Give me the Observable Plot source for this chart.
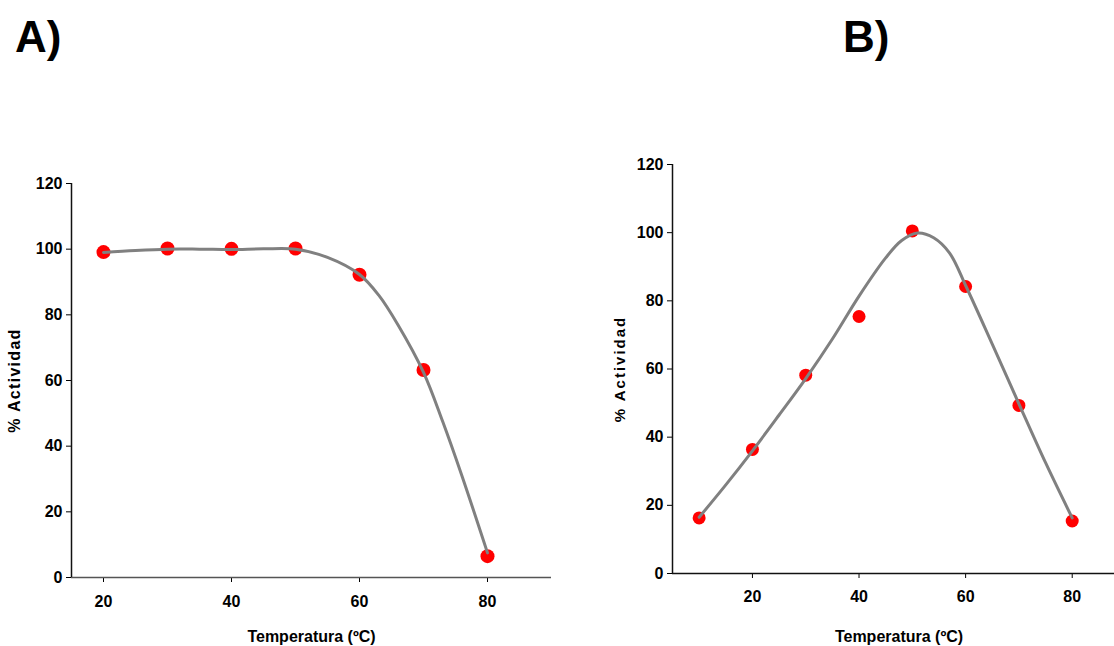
<!DOCTYPE html>
<html>
<head>
<meta charset="utf-8">
<script src="https://cdn.jsdelivr.net/npm/d3@7"></script>
<script src="https://cdn.jsdelivr.net/npm/@observablehq/plot@0.6"></script>
<style>
  html, body { margin: 0; padding: 0; background: #fff; overflow: hidden; }
  #wrap { position: relative; width: 1114px; height: 646px; overflow: hidden; }
  .panel { position: absolute; top: 0; }
  .panel svg { max-width: none !important; }
  .ttl { position: absolute; font-family: "Liberation Sans", Arial, sans-serif; font-weight: bold; font-size: 44px; line-height: 44px; color: #000; }
</style>
</head>
<body>
<div id="wrap">
  <div class="ttl" style="left:15px; top:15px;">A)</div>
  <div class="ttl" style="left:843px; top:15px;">B)</div>
  <div id="pa" class="panel" style="left:0px; width:560px;"></div>
  <div id="pb" class="panel" style="left:560px; width:580px;"></div>
</div>
<script>
// Panel A – measured points
const tempA = [20, 30, 40, 50, 60, 70, 80];
const actA  = [99.1, 100.2, 100.1, 100.2, 92.2, 63.2, 6.5];
// Panel A – trend line
const fitTempA = [20, 25, 30, 35, 40, 45, 50, 55, 60, 63, 66, 70, 73, 76, 80];
const fitActA  = [99, 99.6, 100, 100, 99.9, 100.1, 100, 97.5, 92.3, 86, 77, 62.5, 47.5, 31, 7.5];

// Panel B – measured points
const tempB = [10, 20, 30, 40, 50, 60, 70, 80];
const actB  = [16.3, 36.4, 58.2, 75.4, 100.5, 84.2, 49.3, 15.4];
// Panel B – trend line
const fitTempB = [10, 15, 20, 25, 30, 35, 40, 45, 48, 51, 54, 57, 60, 65, 70, 75, 80];
const fitActB  = [16.5, 26, 36, 46.5, 57.2, 68.8, 81.4, 92.6, 97.7, 99.9, 98.5, 94, 84.5, 67.3, 49.8, 32.5, 16.3];

const yTicks = [0, 20, 40, 60, 80, 100, 120];
const xTicks = [20, 40, 60, 80];

const xLabel = "Temperatura (ºC)";
const yLabel = "% Actividad";

const FONT = '"Liberation Sans", Arial, sans-serif';

function panel(opts) {
  const pts = opts.t.map((t, i) => ({t, a: opts.a[i]}));
  const fit = opts.ft.map((t, i) => ({t, a: opts.fa[i]}));
  const chart = Plot.plot({
    width: opts.width, height: 646,
    marginLeft: opts.ml, marginRight: opts.mr, marginTop: opts.mt, marginBottom: opts.mb,
    style: {fontFamily: FONT, fontSize: "16px", fontWeight: "bold", color: "#000", background: "transparent"},
    x: {domain: opts.xdom},
    y: {domain: [0, 120]},
    marks: [
      Plot.axisX({ticks: xTicks, tickSize: 5, tickPadding: opts.xpad, label: xLabel, labelArrow: "none", labelAnchor: "center", labelOffset: opts.xlo, fontSize: 16, fontWeight: "bold"}),
      Plot.axisY({ticks: yTicks, tickSize: 5, tickPadding: 4, label: yLabel, labelArrow: "none", labelAnchor: "center", labelOffset: opts.ylo, fontSize: 16, fontWeight: "bold"}),
      Plot.ruleY([0], {stroke: opts.xaxisColor, strokeWidth: 1.5}),
      Plot.ruleX([opts.xdom[0]], {stroke: "#111", strokeWidth: 1.5}),
      Plot.dot(pts, {x: "t", y: "a", r: opts.r, fill: "#ff0000", stroke: "none"}),
      Plot.line(fit, {x: "t", y: "a", curve: "catmull-rom", stroke: "#808080", strokeWidth: 3})
    ]
  });
  d3.select(chart).selectAll('[aria-label="y-axis label"] text')
    .style("letter-spacing", opts.ls).style("font-size", opts.yfs);
  d3.select(chart).selectAll('[aria-label="x-axis label"] text').style("font-size", "16px");
  return chart;
}

document.getElementById("pa").appendChild(panel({
  t: tempA, a: actA, ft: fitTempA, fa: fitActA,
  width: 560, ml: 71, mr: 9, mt: 183, mb: 69, xdom: [15, 90],
  xpad: 13, xlo: 64, ylo: 63, r: 7, xaxisColor: "#555", ls: "1.3px", yfs: "16px"
}));
document.getElementById("pb").appendChild(panel({
  t: tempB, a: actB, ft: fitTempB, fa: fitActB,
  width: 580, ml: 112, mr: 15, mt: 164, mb: 73, xdom: [5, 90],
  xpad: 12, xlo: 68, ylo: 58, r: 6.5, xaxisColor: "#111", ls: "2px", yfs: "15px"
}));
</script>
</body>
</html>
